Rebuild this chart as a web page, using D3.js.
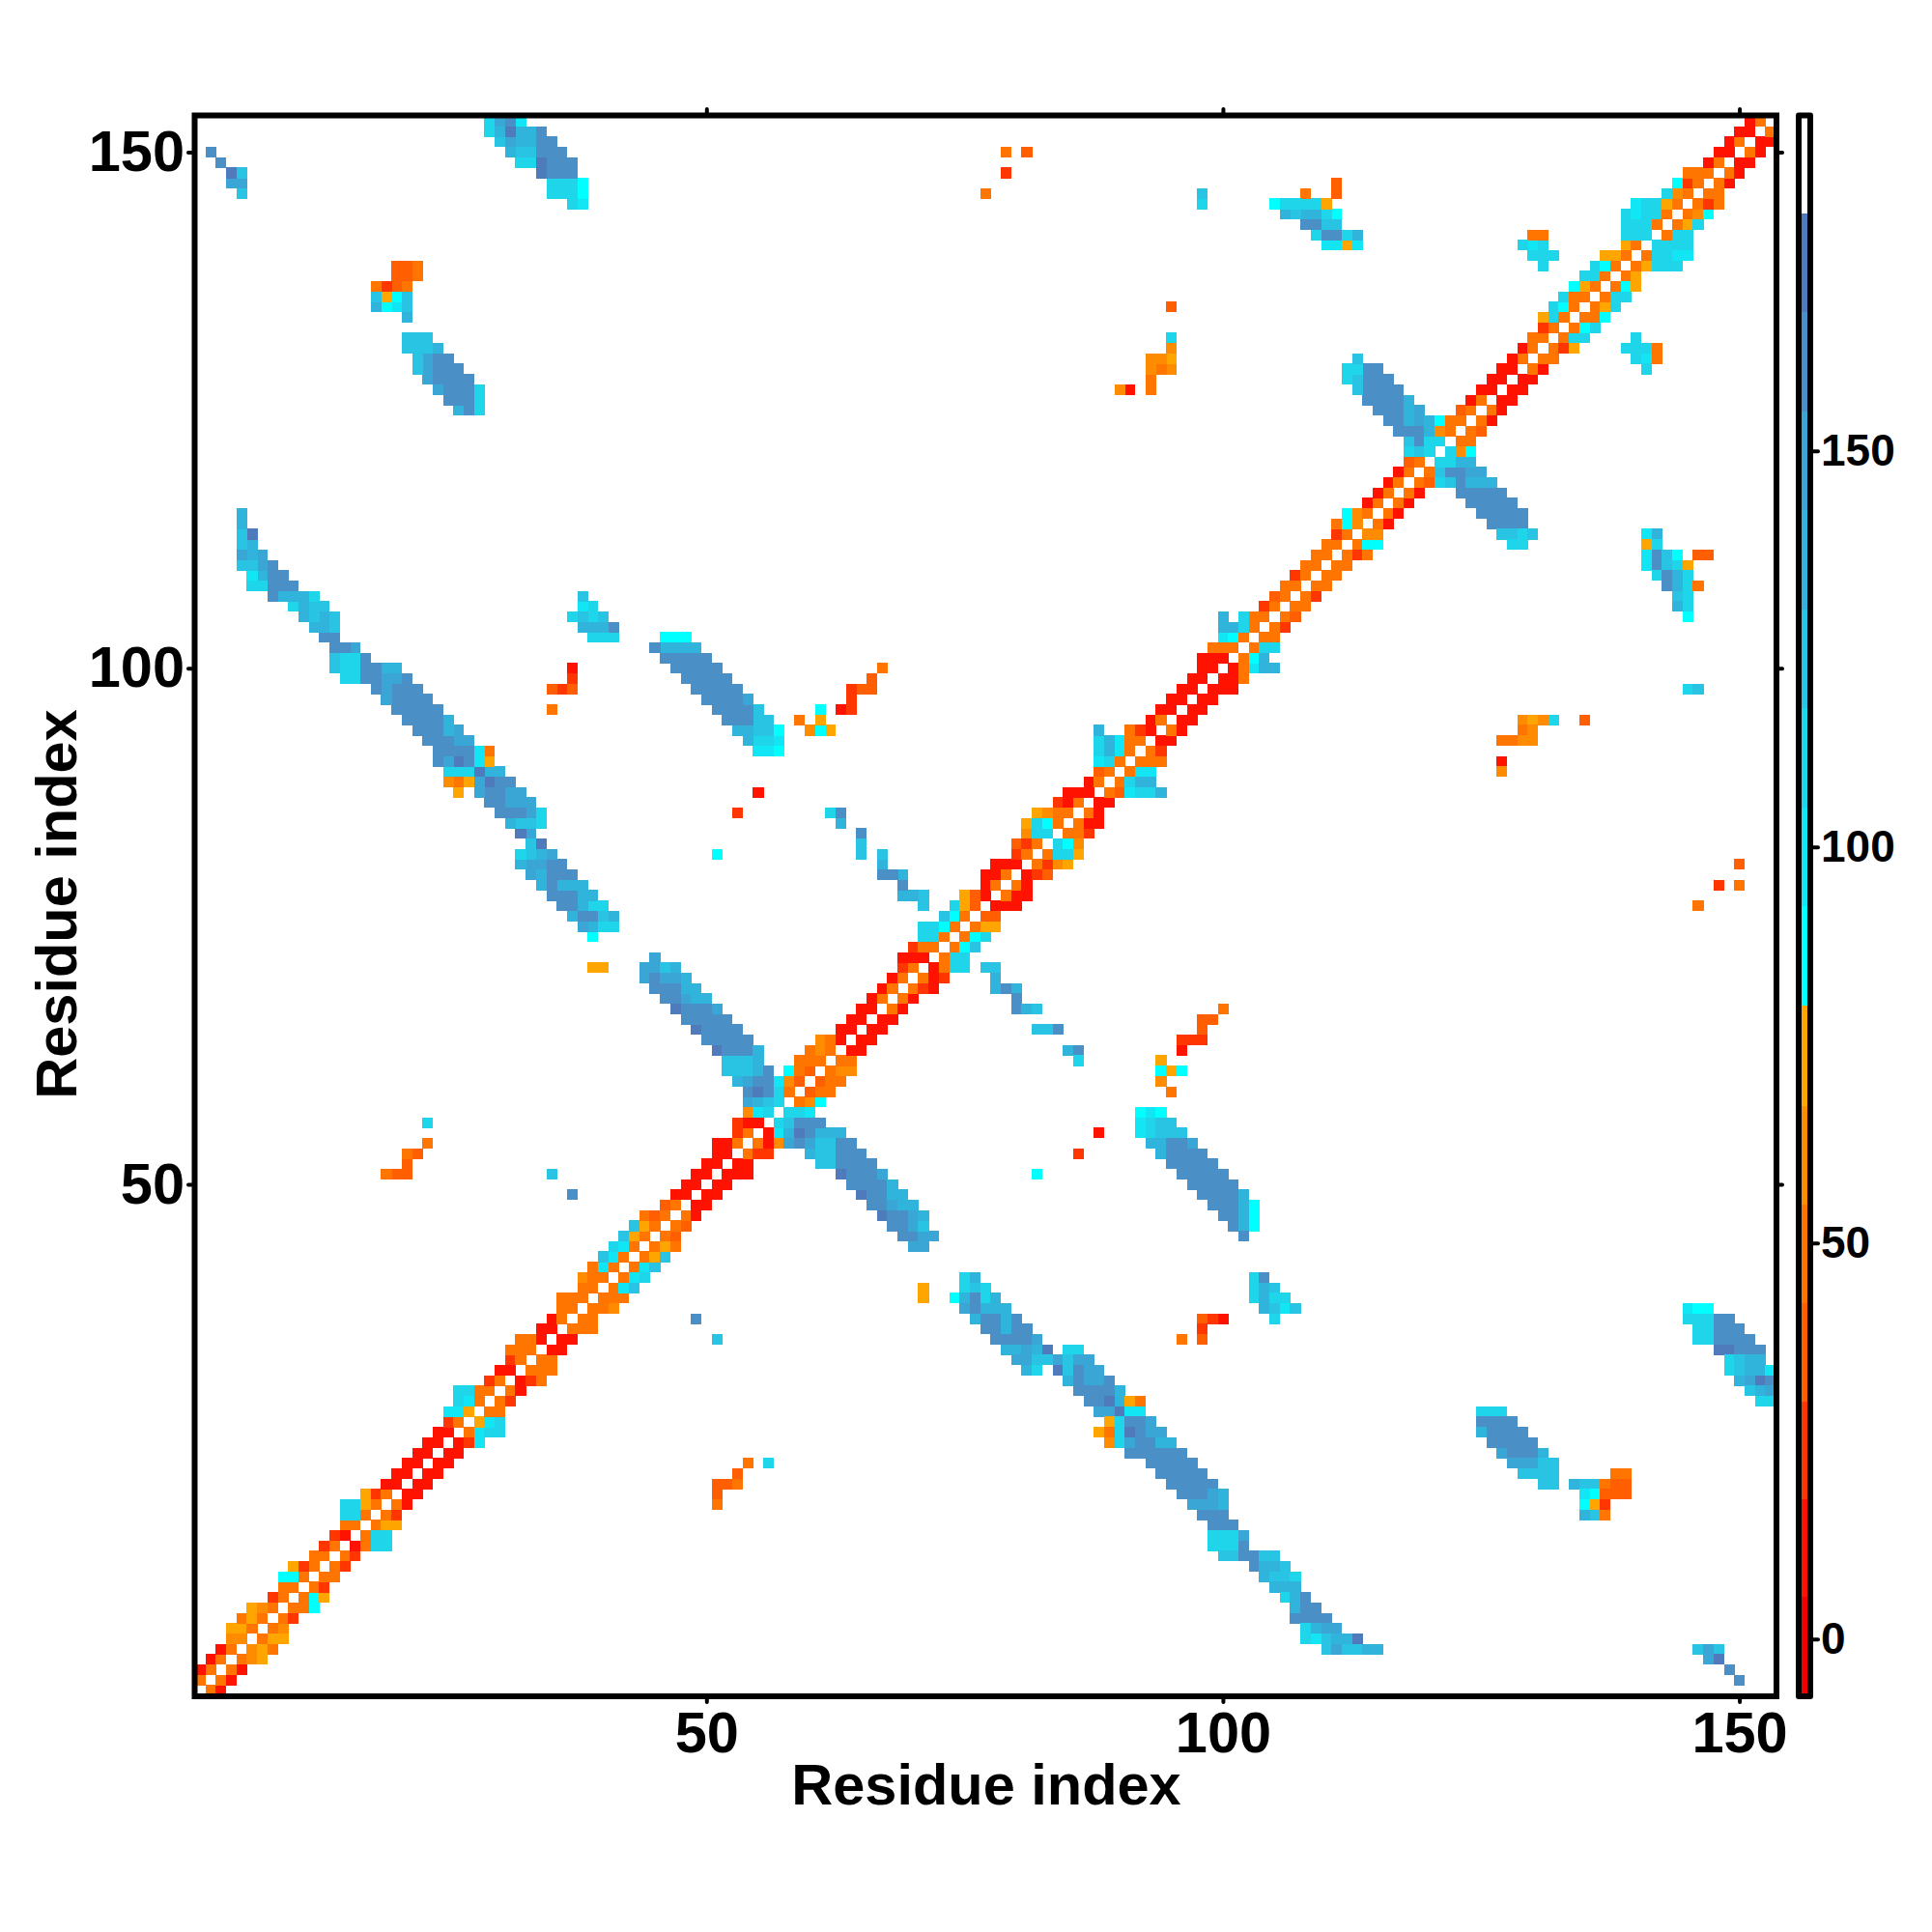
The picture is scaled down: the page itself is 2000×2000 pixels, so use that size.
<!DOCTYPE html>
<html>
<head>
<meta charset="utf-8">
<script src="https://cdnjs.cloudflare.com/ajax/libs/d3/7.8.5/d3.min.js"></script>
<style>
  html, body { margin: 0; background: #fff; }
  text { font-family: "Liberation Sans", Arial, sans-serif; font-weight: bold; fill: #000; }
</style>
</head>
<body>
<svg id="chart" width="2000" height="2000"></svg>
<script>
// values next to the diagonal: entry i holds residue y = i + 1, values start at x = y + 1
var diagonalBand = [
  [48,11],[48,11],[48,11],[48,61,74],[61,74,48],[48,74,74],[48,61],[48,24],[48,48,86],[48,86,74],
  [48,24],[48,48],[48,24],[48,24],[11,48,111,111],[48,111,111],[48,74,74],[48,24],[48,11],[11,11],
  [11,11],[11,11],[11,11],[11,11],[11,24,99],[48,99,111,111],[74,99,111],[48,48],[48,24],[48,11],
  [11,24,48],[48,48,48],[48,48],[11,11],[11,11],[48,48,48],[48,48],[48,48,61],[48,48,48],[48,99,124],
  [48,99,111],[48,99,124],[48,74,124],[48,74,48],[48,36],[48,36],[48,11],[11,11],[11,11],[11,11],
  [11,11,11],[11,11],[48,24,24],[48,11,61,149,165,149,124,124,161,161],[11,99,136,174,161,136,136,136],
  [111,124,161,161,161],[111,111,99],[48,61,86],[36,48,48],[36,48,48],
  [48,61,61],[48,48],[11,11],[11,11],[11,11],[11,11],[48,11],[48,11],[48,24,11],[48,11,24],
  [11,48,111,111],[48,111,111],[48,86,124],[48,86,111],[48,74,74],[36,36],[11,11,11],[48,11,11],[48,11],[11,24,36],
  [48,24,61,74],[48,111,111,74],[111,86,61],[48,48,24],[48,11,11],[48,11],[11,11],[48,36,99,111,111,136],[48,111,136,136],[48,99,99],
  [48,48,48],[48,24],[11,11],[48,11],[11,11],[11,11],[11,11],[11,11,11],[11,11,48],[11,48,99,136,136],
  [48,86,136],[48,111,111],[48,48],[48,24],[48,36],[48,48],[48,24],[48,48],[48,48],[48,48],
  [48,24,48],[48,86,86],[61,61],[48,11],[48,11],[48,11],[48,11],[48,36,111,124,161,136,136,136],[48,124,165,165,149,149],[111,111,136,136],
  [111,61,86],[48,48],[48,36],[48,11],[48,11],[11,11],[11,11],[11,11],[48,11],[48,48],
  [48,24,74],[48,111,111],[48,86,111],[48,48,86],[48,74,111],[48,111,111],[48,86,74],[48,74],[48,74,111,111,111],[48,111,111,99,99],
  [111,111,111,111],[48,111,111],[48,74,111],[48,61,86],[48,24,48],[48,48],[48,11],[48,11],[11,11],[48,11],
  [11,11],[48]
];

// off-diagonal runs as [y, first x, values]
var strandMiddle = [
  [44,70,[149,149]],[45,69,[165,165,149,149]],[46,68,[161,161,149,124]],[47,67,[174,161,161,149,136]],
  [48,66,[161,161,149,136,136]],[49,65,[174,161,161,136,136]],[50,64,[161,161,161,161,136]],
  [51,63,[174,161,161,161,149]],[52,61,[124,124,161,161,161,161]],[53,60,[136,124,124,161,161,161]]
];

var strandLong = [
  [41,75,[111,136]],[40,75,[111,124,111]],[39,74,[86,136,161,111,136]],
  [38,75,[149,161,136,136,136]],[37,76,[136,161,161,136,161]],[36,77,[161,161,136,161,161]],
  [35,78,[161,161,161,161,149]],[34,79,[136,136,149,136,174]],[34,85,[111,111]],
  [33,80,[149,149,124,124,149,124,149,149]],[32,81,[136,111]],[32,84,[174,124,161,149,149]],
  [31,85,[136,161,149,149,161]],[30,86,[161,161,161,161,136]],[29,87,[161,161,174,136,74,48]],
  [28,88,[149,149,174,99,99]],[27,89,[74,111,161,161,149]],[26,88,[74,48,111,174,161,149,149]],
  [25,89,[61,111,149,161,161,136,136]],[24,91,[161,161,161,161,161,161]],[23,93,[161,161,161,161,161]],
  [22,94,[161,161,161,161,161]],[21,95,[161,161,161,161,161]],[20,96,[161,161,161,149,136]],
  [19,97,[149,149,149,136]],[18,98,[161,161,161]],[17,99,[161,161,161]],[16,99,[111,111,111,149]],
  [15,99,[111,111,111,161]],[14,100,[124,124,161,161,124,124]],[13,103,[161,136,136,124]],
  [12,104,[136,124,124,111]],[11,105,[136,136,136]],[10,106,[111,136,161]],[9,107,[136,161,161]],
  [8,107,[161,161,161,161]],[7,108,[111,136,149,149]],[6,108,[111,99,124,136,136,174]],
  [5,110,[124,149,124,124,136,136]]
];

var strandUpper = [
  [57,92,[86,99,86]],[56,92,[99,111,124,124]],[55,92,[99,111,124,124,124]],[54,93,[136,136,161,161,149]],
  [53,94,[136,161,161,161,161]],[52,95,[161,161,161,161,161]],[51,96,[161,161,161,161,161]],
  [50,97,[161,161,161,161,161]],[49,98,[161,161,161,161,136]],[48,99,[161,161,161,136,86]],
  [47,100,[161,161,136,86]],[46,101,[161,136,86]],[45,102,[161]]
];

var strandThin = [
  [71,77,[124,124]],[70,78,[136]],[69,78,[136,161,136]],[68,80,[161]],[67,80,[161,136,124]],
  [65,82,[124,124,161]],[63,85,[136,161]],[62,86,[111]],
  [41,103,[111,161]],[40,103,[111,136,124]],[39,103,[111,136,111,111]],[38,104,[136,124,99,124]],[37,105,[111]]
];

var strandRight = [
  [38,145,[99,86,86]],[37,145,[111,111,111,161,161]],[36,146,[111,111,161,161,161]],
  [35,146,[111,111,161,161,161,161]],[34,148,[174,174,161,161,161]],[33,149,[111,124,136,136]],
  [32,149,[111,124,136,136,99]],[31,150,[136,149,174,161]],[30,151,[124,136,149]],[29,152,[111,111]],
  [28,125,[111,111,111]],[27,125,[161,161,161,161]],[26,125,[136,161,161,161,161]],
  [25,126,[161,161,161,161,161]],[24,127,[149,161,161,161,136]],[23,128,[149,149,149,124,124]],
  [22,129,[124,124,124,124]],[21,131,[124,124]],
  [117,123,[161,161,161,161,161]],[116,124,[161,161,161,161,161]],[115,125,[161,161,161,161,161]],
  [114,126,[161,161,161,161]],[113,127,[124,124,111,124]],[112,128,[111,111]],
  [113,141,[99,136]],[112,141,[74,111]],[111,141,[99,161,124,86]],[110,141,[99,161,124,111,74]],
  [109,142,[111,161,136,111]],[108,143,[161,136,111,48]],[107,144,[124,111]],[106,144,[136,111]],[105,145,[86]]
];

var contacts = [
  [37,49,[161]],[35,51,[124]],[23,54,[48]],[23,56,[111]],[22,53,[36]],[21,51,[36,36,48]],[20,51,[36]],[19,51,[48]],
  [40,71,[74]],[39,71,[74]],[55,88,[11]],[53,86,[24]],[51,82,[86]],
  [67,100,[48]],[66,98,[36,36]],[65,98,[40]],[64,96,[24,24,24]],[63,96,[11]],[62,94,[74]],[61,94,[86,74,86]],[60,94,[61]],[59,95,[48]],
  [37,98,[36,24,11]],[36,98,[24]],[35,96,[48]],[35,98,[36]],
  [22,138,[48,48]],[21,134,[136,124,124,48,36,36]],[20,135,[99,86,36,36,36]],[19,135,[86,74,24]],[18,135,[136,124,48]],
  [5,146,[124,149,124]],[4,147,[149,174]],[3,149,[161]],[2,150,[161]],
  [111,146,[36,36]],[98,145,[111,124]],[95,129,[61,74,61,111]],[95,135,[36]],[94,129,[54,61]],[93,127,[48,48,61,61]],
  [91,127,[11]],[90,127,[61]],[81,150,[36]],[79,148,[24]],[79,150,[48]],[77,146,[48]],
  [132,140,[111]],[131,139,[111,111,111,48]],[130,140,[111,99,48]],[129,141,[111]]
];

var axisTicks = [50, 100, 150];
var legendTicks = [0, 50, 100, 150];
var legendRange = [-7.1, 192.3];
var colorBreaks = [5.3, 17.7, 30, 42.4, 54.8, 67.3, 80, 92.5, 105, 117.5, 130, 142.5, 155, 167.5, 180];
var colorSteps = ['#f00000', '#ff1200', '#ff3600', '#ff5f00', '#ff7500', '#ff8c00', '#ffa500',
  '#00ffff', '#12e6f4', '#1fd5ea', '#29c4e3', '#30b4dc', '#3aa6d6', '#4a8fc6', '#4f7bbc', '#ffffff'];

var xLabel = 'Residue index';
var yLabel = 'Residue index';

// ---- layout
var plot = { left: 202, right: 1838, top: 120, bottom: 1755 };
var bar = { left: 1862, right: 1874 };

var svg = d3.select('#chart');
var x = d3.scaleLinear().domain([0.5, 153.5]).range([plot.left, plot.right]);
var y = d3.scaleLinear().domain([0.5, 153.5]).range([plot.bottom, plot.top]);
var color = d3.scaleThreshold().domain(colorBreaks).range(colorSteps);
var legendY = d3.scaleLinear().domain(legendRange).range([plot.bottom, plot.top]);

// expand runs, the map is symmetric so every cell goes in twice
var cells = [];
function addCell(cx, cy, value) {
  cells.push({ x: cx, y: cy, value: value });
  cells.push({ x: cy, y: cx, value: value });
}
diagonalBand.forEach(function (values, i) {
  values.forEach(function (v, k) { addCell(i + 2 + k, i + 1, v); });
});
[strandMiddle, strandLong, strandUpper, strandThin, strandRight, contacts].forEach(function (runs) {
  runs.forEach(function (run) {
    run[2].forEach(function (v, k) { addCell(run[1] + k, run[0], v); });
  });
});

svg.append('g').selectAll('rect')
  .data(cells)
  .enter().append('rect')
  .attr('x', function (d) { return x(d.x - 0.5); })
  .attr('y', function (d) { return y(d.y + 0.5); })
  .attr('width', x(1.5) - x(0.5) + 0.4)
  .attr('height', y(0.5) - y(1.5) + 0.4)
  .attr('fill', function (d) { return color(d.value); })
  .attr('shape-rendering', 'crispEdges');

// ---- axes
function styleAxis(g, size) {
  g.select('.domain').remove();
  g.selectAll('.tick line').attr('stroke', '#000').attr('stroke-width', 4).attr('stroke-linecap', 'round');
  g.selectAll('.tick text').style('font-size', size + 'px');
}

svg.append('g').attr('transform', 'translate(0,' + plot.bottom + ')')
  .call(d3.axisBottom(x).tickValues(axisTicks).tickSize(7).tickPadding(10))
  .call(styleAxis, 59.5);
svg.append('g').attr('transform', 'translate(' + plot.left + ',0)')
  .call(d3.axisLeft(y).tickValues(axisTicks).tickSize(7).tickPadding(4))
  .call(styleAxis, 59.5);
svg.append('g').attr('transform', 'translate(0,' + plot.top + ')')
  .call(d3.axisTop(x).tickValues(axisTicks).tickSize(7).tickFormat(''))
  .call(styleAxis, 59.5);
svg.append('g').attr('transform', 'translate(' + plot.right + ',0)')
  .call(d3.axisRight(y).tickValues(axisTicks).tickSize(7).tickFormat(''))
  .call(styleAxis, 59.5);

svg.append('rect')
  .attr('x', plot.left - 0.5).attr('y', plot.top - 0.5)
  .attr('width', plot.right - plot.left + 1.5).attr('height', plot.bottom - plot.top + 1.5)
  .attr('fill', 'none').attr('stroke', '#000').attr('stroke-width', 6);

svg.append('text')
  .attr('x', 1021).attr('y', 1868)
  .attr('text-anchor', 'middle')
  .style('font-size', '59.5px')
  .text(xLabel);
svg.append('text')
  .attr('transform', 'translate(79,936) rotate(-90)')
  .attr('text-anchor', 'middle')
  .style('font-size', '59.5px')
  .text(yLabel);

// ---- colour bar
var barEdges = [legendRange[0]].concat(colorBreaks, [legendRange[1]]);
svg.append('g').selectAll('rect')
  .data(colorSteps)
  .enter().append('rect')
  .attr('x', bar.left)
  .attr('width', bar.right - bar.left)
  .attr('y', function (d, i) { return legendY(barEdges[i + 1]); })
  .attr('height', function (d, i) { return legendY(barEdges[i]) - legendY(barEdges[i + 1]); })
  .attr('fill', function (d) { return d; })
  .attr('shape-rendering', 'crispEdges');

svg.append('rect')
  .attr('x', bar.left).attr('y', plot.top - 0.5)
  .attr('width', bar.right - bar.left).attr('height', plot.bottom - plot.top + 1.5)
  .attr('fill', 'none').attr('stroke', '#000').attr('stroke-width', 6).attr('stroke-linejoin', 'round');

svg.append('g').attr('transform', 'translate(' + (bar.right + 3) + ',0)')
  .call(d3.axisRight(legendY).tickValues(legendTicks).tickSize(5).tickPadding(3))
  .call(styleAxis, 46);
</script>
</body>
</html>
